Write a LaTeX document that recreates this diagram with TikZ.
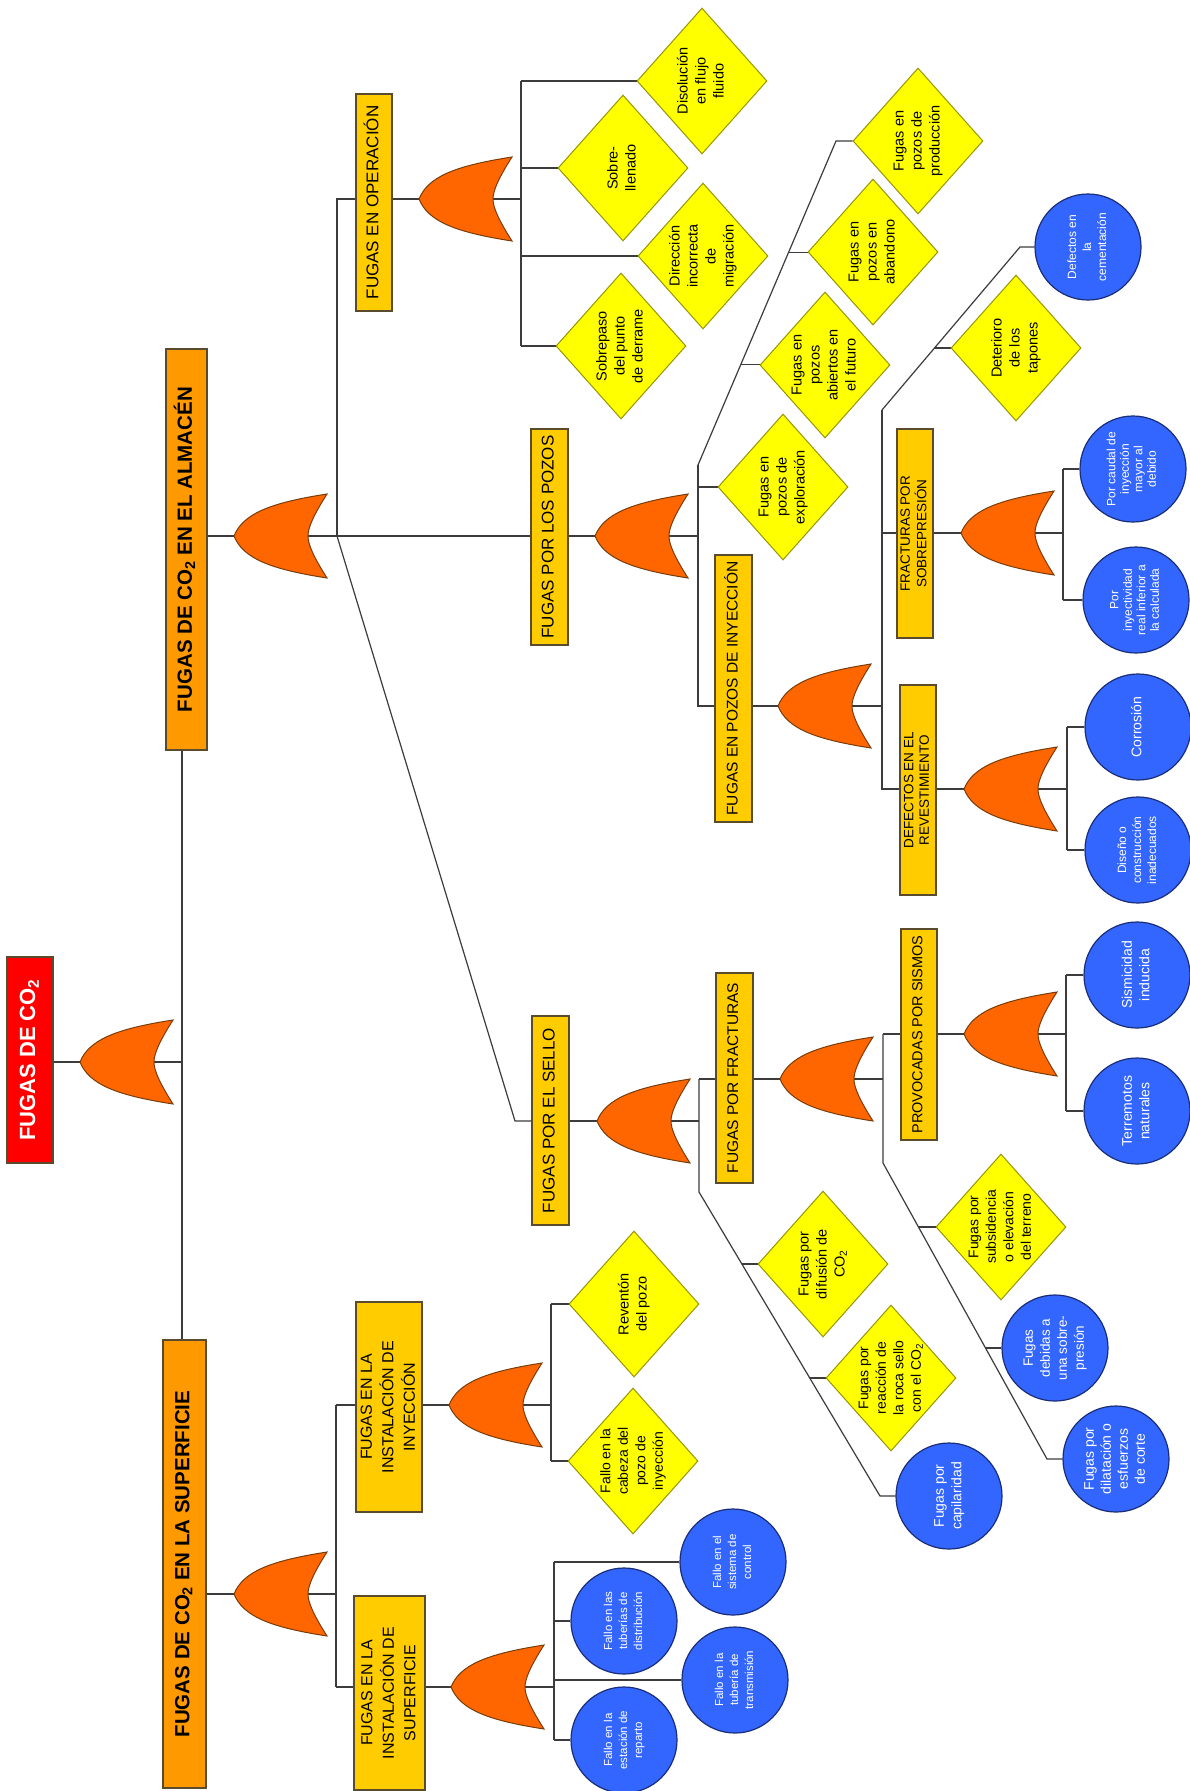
\documentclass[tikz,border=0pt]{standalone}
\usepackage{graphicx}
\usepackage{fontspec}
\setmainfont{Liberation Sans}
\usetikzlibrary{shapes.geometric,calc}
\pgfdeclarelayer{background}
\pgfsetlayers{background,main}
\definecolor{rootred}{RGB}{255,0,0}
\definecolor{lvlorange}{RGB}{255,153,0}
\definecolor{boxgold}{RGB}{255,204,0}
\definecolor{gateorange}{RGB}{255,102,0}
\definecolor{gateedge}{RGB}{120,60,10}
\definecolor{diayellow}{RGB}{255,255,0}
\definecolor{diaedge}{RGB}{150,150,0}
\definecolor{circblue}{RGB}{51,102,255}
\definecolor{circedge}{RGB}{25,45,120}
\definecolor{boxedge}{RGB}{90,75,45}
\definecolor{wirec}{RGB}{60,60,60}
\newcommand\rt[4][]{\rotatebox{90}{\fontsize{#2}{#3}\selectfont#1\begin{tabular}{@{}c@{}}#4\end{tabular}}}
\begin{document}
\begin{tikzpicture}[x=1pt,y=-1pt,
  wire/.style={draw=wirec, line width=1.2pt},
  bx/.style={rectangle, draw=boxedge, line width=1.2pt, inner sep=0pt},
  gbox/.style={bx, fill=boxgold},
  obox/.style={bx, fill=lvlorange},
  rbox/.style={bx, fill=rootred},
  dia/.style={diamond, draw=diaedge, fill=diayellow, line width=1pt, inner sep=0pt, minimum width=130pt, minimum height=146pt},
  circ/.style={circle, draw=circedge, fill=circblue, line width=1.2pt, inner sep=0pt, minimum size=106pt},
  gatefill/.style={fill=gateorange, draw=gateedge, line width=1pt},
  pics/orgate/.style={code={
    \path[gatefill] (0,0) .. controls (9,-22) and (35,-33) .. (93,-42)
      .. controls (79,-20) and (74,-8) .. (74,0)
      .. controls (74,8) and (79,20) .. (93,42)
      .. controls (35,33) and (9,22) .. (0,0) -- cycle;
    \coordinate (-tip) at (0,0);
    \coordinate (-back) at (74,0);
  }}
]
\useasboundingbox (0,0) rectangle (1189,1791);
\begin{pgfonlayer}{background}
\fill[white] (0,0) rectangle (1189,1791);
\end{pgfonlayer}

% ---------- boxes ----------
\node[rbox, minimum width=46pt, minimum height=206pt, label={center:\rt[\bfseries\color{white}]{22}{26}{FUGAS DE CO\textsubscript{2}}}] (bRoot) at (30,1060) {};
\node[obox, minimum width=41pt, minimum height=401pt, label={center:\rt[\bfseries]{20.5}{24}{FUGAS DE CO\textsubscript{2} EN EL ALMACÉN}}] (bAlm) at (186.5,549.5) {};
\node[obox, minimum width=43pt, minimum height=448pt, label={center:\rt[\bfseries]{20.5}{24}{FUGAS DE CO\textsubscript{2} EN LA SUPERFICIE}}] (bSup) at (184.5,1564) {};
\node[gbox, minimum width=36pt, minimum height=217pt, label={center:\rt{17}{20}{FUGAS EN OPERACIÓN}}] (bOp) at (374,202.5) {};
\node[gbox, minimum width=37pt, minimum height=216pt, label={center:\rt{17}{20}{FUGAS POR LOS POZOS}}] (bPoz) at (549.5,537) {};
\node[gbox, minimum width=37pt, minimum height=209pt, label={center:\rt{17}{20}{FUGAS POR EL SELLO}}] (bSel) at (550.5,1120.5) {};
\node[gbox, minimum width=37pt, minimum height=267pt, label={center:\rt{15.5}{18}{FUGAS EN POZOS DE INYECCIÓN}}] (bPin) at (733.5,688.5) {};
\node[gbox, minimum width=37pt, minimum height=210pt, label={center:\rt{15.5}{18}{FUGAS POR FRACTURAS}}] (bFra) at (734.5,1078) {};
\node[gbox, minimum width=36pt, minimum height=209pt, label={center:\rt{13.5}{15.5}{FRACTURAS POR\\SOBREPRESIÓN}}] (bFsp) at (915,533.5) {};
\node[gbox, minimum width=36pt, minimum height=210pt, label={center:\rt{13.5}{15.5}{DEFECTOS EN EL\\REVESTIMIENTO}}] (bRev) at (918,790) {};
\node[gbox, minimum width=36pt, minimum height=211pt, label={center:\rt{14.5}{17}{PROVOCADAS POR SISMOS}}] (bSis) at (919,1034.5) {};
\node[gbox, minimum width=66pt, minimum height=210pt, label={center:\rt{16}{21.5}{FUGAS EN LA\\INSTALACIÓN DE\\INYECCIÓN}}] (bIiny) at (389,1407) {};
\node[gbox, minimum width=71pt, minimum height=194pt, label={center:\rt{16}{21.5}{FUGAS EN LA\\INSTALACIÓN DE\\SUPERFICIE}}] (bIsup) at (389.5,1693) {};

% ---------- gates ----------
\pic (gRoot) at (80,1062) {orgate};
\pic (gAlm) at (234,536) {orgate};
\pic (gSup) at (234,1594) {orgate};
\pic (gOp) at (419,199) {orgate};
\pic (gPoz) at (595,536) {orgate};
\pic (gSel) at (597,1121) {orgate};
\pic (gPin) at (778,706) {orgate};
\pic (gFra) at (780,1079) {orgate};
\pic (gFsp) at (961,533) {orgate};
\pic (gRev) at (964,789) {orgate};
\pic (gSis) at (964,1034) {orgate};
\pic (gIi) at (449,1405) {orgate};
\pic (gIs) at (451,1687) {orgate};

% ---------- diamonds ----------
\node[dia, label={center:\rt{14.5}{18}{Disolución\\en flujo\\fluido}}] (dDis) at (702,81) {};
\node[dia, label={center:\rt{14.5}{18}{Sobre-\\llenado}}] (dSob) at (623,168) {};
\node[dia, label={center:\rt{14.5}{18}{Dirección\\incorrecta\\de\\migración}}] (dDir) at (703,256) {};
\node[dia, label={center:\rt{14.5}{18}{Sobrepaso\\del punto\\de derrame}}] (dDer) at (621,346) {};
\node[dia, label={center:\rt{14.5}{18}{Fugas en\\pozos de\\producción}}] (dPro) at (918,141) {};
\node[dia, label={center:\rt{14.5}{18}{Fugas en\\pozos en\\abandono}}] (dAba) at (873,252) {};
\node[dia, label={center:\rt{14.5}{18}{Fugas en\\pozos\\abiertos en\\el futuro}}] (dAbi) at (825,365) {};
\node[dia, label={center:\rt{14.5}{18}{Fugas en\\pozos de\\exploración}}] (dExp) at (783,487) {};
\node[dia, label={center:\rt{14.5}{18}{Deterioro\\de los\\tapones}}] (dTap) at (1016,348) {};
\node[dia, label={center:\rt{14}{17.5}{Fugas por\\subsidencia\\o elevación\\del terreno}}] (dSub) at (1001,1227) {};
\node[dia, label={center:\rt{14.5}{18}{Fugas por\\difusión de\\CO\textsubscript{2}}}] (dDif) at (823,1264) {};
\node[dia, label={center:\rt{14}{17.5}{Fugas por\\reacción de\\la roca sello\\con el CO\textsubscript{2}}}] (dRea) at (891,1378) {};
\node[dia, label={center:\rt{14.5}{18}{Reventón\\del pozo}}] (dRvt) at (634,1304) {};
\node[dia, label={center:\rt{14}{17.5}{Fallo en la\\cabeza del\\pozo de\\inyección}}] (dCab) at (633,1461) {};

% ---------- circles ----------
\node[circ, label={center:\rt[\color{white}]{12}{15}{Defectos en\\la\\cementación}}] (cCem) at (1088,247) {};
\node[circ, label={center:\rt[\color{white}]{12}{13.5}{Por caudal de\\inyección\\mayor al\\debido}}] (cCau) at (1133,469) {};
\node[circ, label={center:\rt[\color{white}]{12}{13.5}{Por\\inyectividad\\real inferior a\\la calculada}}] (cIny) at (1136,600) {};
\node[circ, label={center:\rt[\color{white}]{14}{17}{Corrosión}}] (cCor) at (1138,727) {};
\node[circ, label={center:\rt[\color{white}]{12}{15}{Diseño o\\construcción\\inadecuados}}] (cDis) at (1138,850) {};
\node[circ, label={center:\rt[\color{white}]{14}{17.5}{Sismicidad\\inducida}}] (cSmi) at (1137,975) {};
\node[circ, label={center:\rt[\color{white}]{14}{17.5}{Terremotos\\naturales}}] (cTer) at (1137,1111) {};
\node[circ, label={center:\rt[\color{white}]{14}{17.5}{Fugas por\\capilaridad}}] (cCap) at (949,1496) {};
\node[circ, label={center:\rt[\color{white}]{13.5}{17}{Fugas\\debidas a\\una sobre-\\presión}}] (cSpr) at (1055,1348) {};
\node[circ, label={center:\rt[\color{white}]{14}{17}{Fugas por\\dilatación o\\esfuerzos\\de corte}}] (cDil) at (1116,1459) {};
\node[circ, label={center:\rt[\color{white}]{11.5}{15}{Fallo en el\\sistema de\\control}}] (cCon) at (733,1562) {};
\node[circ, label={center:\rt[\color{white}]{11.5}{15}{Fallo en las\\tuberías de\\distribución}}] (cDsb) at (624,1621) {};
\node[circ, label={center:\rt[\color{white}]{11.5}{15}{Fallo en la\\tubería de\\transmisión}}] (cTra) at (735,1680) {};
\node[circ, label={center:\rt[\color{white}]{11.5}{15}{Fallo en la\\estación de\\reparto}}] (cRep) at (624,1740) {};

% ---------- bus coordinates ----------
\coordinate (trunk) at (182,1062);
\coordinate (almbus) at (337,536);
\coordinate (sj) at (515,1121);
\coordinate (opbus) at (521,199);
\coordinate (pzbus) at (698,536);
\coordinate (pzT) at (698,465);
\coordinate (pzD) at (836,141);
\coordinate (pibus) at (882,706);
\coordinate (piT) at (882,410);
\coordinate (piD) at (1020,247);
\coordinate (fsbus) at (1063,533);
\coordinate (rvbus) at (1067,789);
\coordinate (slbus) at (699,1121);
\coordinate (slT) at (699,1192);
\coordinate (slD) at (880,1496);
\coordinate (frbus) at (883,1079);
\coordinate (frT) at (883,1163);
\coordinate (frD) at (1047,1459);
\coordinate (ssbus) at (1066,1034);
\coordinate (supbus) at (336,1594);
\coordinate (iibus) at (551,1405);
\coordinate (isbus) at (554,1687);
\coordinate (j1) at ($(pzT)!0.309!(pzD)$);
\coordinate (j2) at ($(pzT)!0.657!(pzD)$);
\coordinate (j3) at ($(piT)!0.380!(piD)$);
\coordinate (j5) at ($(slT)!0.237!(slD)$);
\coordinate (j6) at ($(slT)!0.612!(slD)$);
\coordinate (j7) at ($(frT)!0.216!(frD)$);
\coordinate (j8) at ($(frT)!0.625!(frD)$);

% ---------- connectors ----------
\begin{pgfonlayer}{background}
% root
\draw[wire] (bRoot.east |- gRoot-tip) -- (gRoot-tip);
\draw[wire] (gRoot-back) -- (trunk);
\draw[wire] (bAlm.south -| trunk) -- (bSup.north -| trunk);
% almacen
\draw[wire] (bAlm.east |- gAlm-tip) -- (gAlm-tip);
\draw[wire] (gAlm-back) -- (bPoz.west |- gAlm-back);
\draw[wire] (almbus) -- (almbus |- gOp-tip) -- (bOp.west |- gOp-tip);
\draw[wire] (almbus) -- (sj) -- (bSel.west |- sj);
% operacion
\draw[wire] (bOp.east |- gOp-tip) -- (gOp-tip);
\draw[wire] (gOp-back) -- (opbus);
\draw[wire] (dDis.west -| opbus) -- (dDer.west -| opbus);
\foreach \n in {dDis,dSob,dDir,dDer} \draw[wire] (\n.west -| opbus) -- (\n.west);
% pozos
\draw[wire] (bPoz.east |- gPoz-tip) -- (gPoz-tip);
\draw[wire] (gPoz-back) -- (pzbus);
\draw[wire] (pzT) -- (pzbus |- gPin-tip) -- (bPin.west |- gPin-tip);
\draw[wire] (dExp.west -| pzbus) -- (dExp.west);
\draw[wire] (pzT) -- (pzD) -- (dPro.west);
\draw[wire] (j1) -- (j1 -| dAbi.west);
\draw[wire] (j2) -- (j2 -| dAba.west);
% pozos de inyeccion
\draw[wire] (bPin.east |- gPin-tip) -- (gPin-tip);
\draw[wire] (gPin-back) -- (pibus);
\draw[wire] (piT) -- (pibus |- gRev-tip) -- (bRev.west |- gRev-tip);
\draw[wire] (pibus |- gFsp-tip) -- (bFsp.west |- gFsp-tip);
\draw[wire] (piT) -- (piD) -- (cCem.west);
\draw[wire] (j3) -- (j3 -| dTap.west);
% fracturas por sobrepresion
\draw[wire] (bFsp.east |- gFsp-tip) -- (gFsp-tip);
\draw[wire] (gFsp-back) -- (fsbus);
\draw[wire] (cCau.west -| fsbus) -- (cIny.west -| fsbus);
\foreach \n in {cCau,cIny} \draw[wire] (\n.west -| fsbus) -- (\n.west);
% revestimiento
\draw[wire] (bRev.east |- gRev-tip) -- (gRev-tip);
\draw[wire] (gRev-back) -- (rvbus);
\draw[wire] (cCor.west -| rvbus) -- (cDis.west -| rvbus);
\foreach \n in {cCor,cDis} \draw[wire] (\n.west -| rvbus) -- (\n.west);
% sello
\draw[wire] (bSel.east |- gSel-tip) -- (gSel-tip);
\draw[wire] (gSel-back) -- (slbus);
\draw[wire] (slbus |- gFra-tip) -- (slT) -- (slD) -- (cCap.west);
\draw[wire] (slbus |- gFra-tip) -- (bFra.west |- gFra-tip);
\draw[wire] (j5) -- (j5 -| dDif.west);
\draw[wire] (j6) -- (j6 -| dRea.west);
% fracturas
\draw[wire] (bFra.east |- gFra-tip) -- (gFra-tip);
\draw[wire] (gFra-back) -- (frbus);
\draw[wire] (frbus |- gSis-tip) -- (frT) -- (frD) -- (cDil.west);
\draw[wire] (frbus |- gSis-tip) -- (bSis.west |- gSis-tip);
\draw[wire] (j7) -- (j7 -| dSub.west);
\draw[wire] (j8) -- (j8 -| cSpr.west);
% sismos
\draw[wire] (bSis.east |- gSis-tip) -- (gSis-tip);
\draw[wire] (gSis-back) -- (ssbus);
\draw[wire] (cSmi.west -| ssbus) -- (cTer.west -| ssbus);
\foreach \n in {cSmi,cTer} \draw[wire] (\n.west -| ssbus) -- (\n.west);
% superficie
\draw[wire] (bSup.east |- gSup-tip) -- (gSup-tip);
\draw[wire] (gSup-back) -- (supbus);
\draw[wire] (supbus |- gIi-tip) -- (supbus |- gIs-tip);
\draw[wire] (supbus |- gIi-tip) -- (bIiny.west |- gIi-tip);
\draw[wire] (supbus |- gIs-tip) -- (bIsup.west |- gIs-tip);
% instalacion de inyeccion
\draw[wire] (bIiny.east |- gIi-tip) -- (gIi-tip);
\draw[wire] (gIi-back) -- (iibus);
\draw[wire] (dRvt.west -| iibus) -- (dCab.west -| iibus);
\foreach \n in {dRvt,dCab} \draw[wire] (\n.west -| iibus) -- (\n.west);
% instalacion de superficie
\draw[wire] (bIsup.east |- gIs-tip) -- (gIs-tip);
\draw[wire] (gIs-back) -- (isbus);
\draw[wire] (cCon.west -| isbus) -- (cRep.west -| isbus);
\foreach \n in {cCon,cDsb,cTra,cRep} \draw[wire] (\n.west -| isbus) -- (\n.west);
\end{pgfonlayer}
\end{tikzpicture}
\end{document}
